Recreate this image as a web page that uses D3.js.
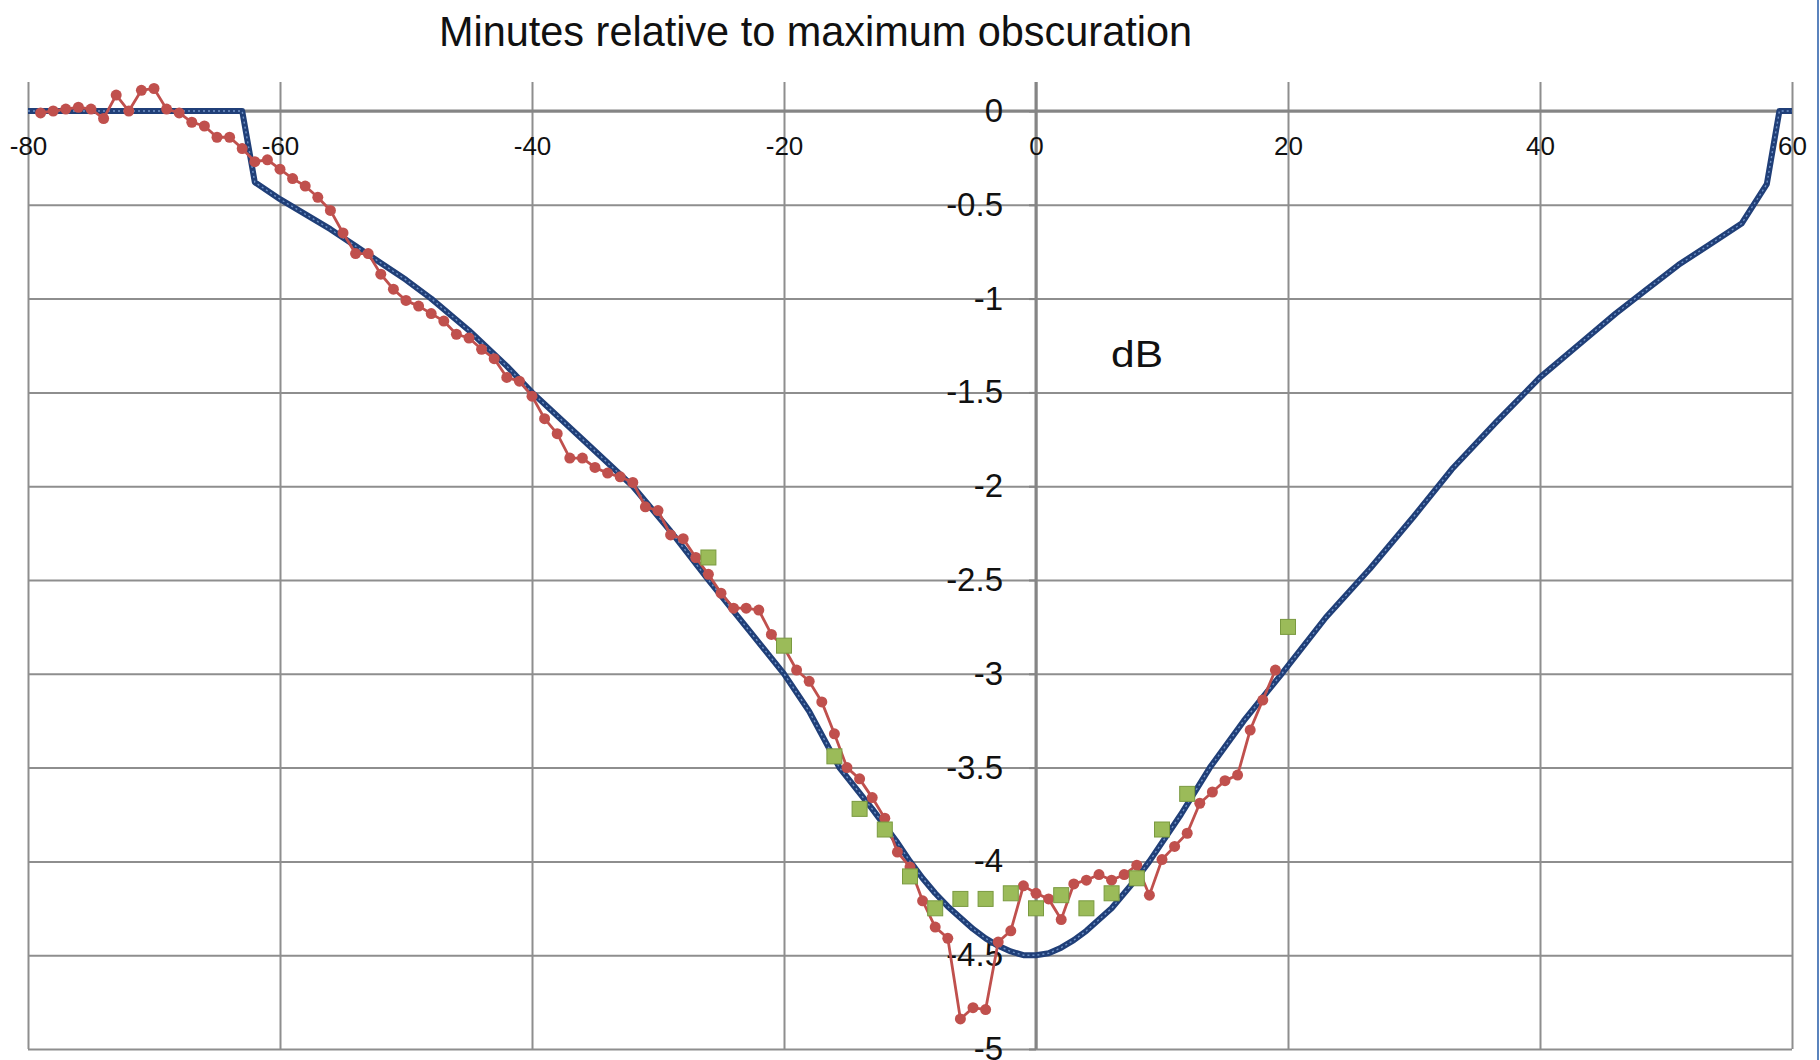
<!DOCTYPE html>
<html>
<head>
<meta charset="utf-8">
<script src="https://d3js.org/d3.v7.min.js"></script>
<style>
  html, body { margin: 0; padding: 0; background: #fff; }
  svg { display: block; font-family: "Liberation Sans", Arial, sans-serif; }
</style>
</head>
<body>
<div id="chart"></div>
<script>
// minutes relative to maximum obscuration
const xTicks = [-80, -60, -40, -20, 0, 20, 40, 60];
const yTicks = [0, -0.5, -1, -1.5, -2, -2.5, -3, -3.5, -4, -4.5, -5];

// model curve (blue)
const modelMin = [-80, -63, -62, -60, -58, -56, -54, -52, -50, -48, -45, -42, -40, -36, -32, -29, -26, -23, -20, -18, -15.6, -13, -11, -10, -9, -8, -7, -6, -5, -4, -3, -2, -1, 0,
  1, 2, 3, 4, 5, 6, 7, 8, 9, 10, 11.5, 13.8, 16.5, 19.5, 23, 26.5, 30, 33, 36.5, 40, 43, 46, 48.5, 51, 53.5, 56, 58, 59, 60];
const modelDb = [0, 0, -0.38, -0.47, -0.55, -0.63, -0.72, -0.81, -0.9, -1.0, -1.17, -1.36, -1.5, -1.75, -2.0, -2.24, -2.5, -2.75, -3.0, -3.2, -3.5, -3.72, -3.9, -4.0, -4.09, -4.17, -4.24, -4.3, -4.36, -4.41, -4.45, -4.48, -4.5, -4.5,
  -4.49, -4.46, -4.42, -4.37, -4.31, -4.25, -4.17, -4.09, -4.0, -3.9, -3.75, -3.5, -3.25, -3.0, -2.7, -2.44, -2.16, -1.91, -1.66, -1.42, -1.25, -1.08, -0.95, -0.82, -0.71, -0.6, -0.39, 0, 0];

// measured (red)
const measMin = [-79, -78, -77, -76, -75, -74, -73, -72, -71, -70, -69, -68, -67, -66, -65, -64, -63, -62, -61, -60,
  -59, -58, -57, -56, -55, -54, -53, -52, -51, -50, -49, -48, -47, -46, -45, -44, -43, -42, -41, -40,
  -39, -38, -37, -36, -35, -34, -33, -32, -31, -30, -29, -28, -27, -26, -25, -24, -23, -22, -21, -20,
  -19, -18, -17, -16, -15, -14, -13, -12, -11, -10, -9, -8, -7, -6, -5, -4, -3, -2, -1, 0,
  1, 2, 3, 4, 5, 6, 7, 8, 9, 10, 11, 12, 13, 14, 15, 16, 17, 18, 19];
const measDb = [-0.01, 0.0, 0.01, 0.02, 0.01, -0.04, 0.085, 0.0, 0.11, 0.12, 0.01, -0.01, -0.06, -0.08, -0.14, -0.14, -0.2, -0.27, -0.26, -0.31,
  -0.36, -0.4, -0.46, -0.53, -0.65, -0.76, -0.76, -0.87, -0.95, -1.01, -1.04, -1.08, -1.12, -1.19, -1.21, -1.27, -1.32, -1.42, -1.44, -1.52,
  -1.64, -1.72, -1.85, -1.85, -1.9, -1.93, -1.95, -1.98, -2.11, -2.13, -2.26, -2.28, -2.38, -2.47, -2.57, -2.65, -2.65, -2.66, -2.79, -2.86,
  -2.98, -3.04, -3.15, -3.32, -3.5, -3.56, -3.66, -3.77, -3.95, -4.03, -4.21, -4.35, -4.41, -4.84, -4.78, -4.79, -4.43, -4.37, -4.13, -4.17,
  -4.2, -4.31, -4.12, -4.1, -4.07, -4.1, -4.07, -4.02, -4.18, -3.99, -3.92, -3.85, -3.69, -3.63, -3.57, -3.54, -3.3, -3.14, -2.98];

// second measurement (green squares)
const sqMin = [-26, -20, -16, -14, -12, -10, -8, -6, -4, -2, 0, 2, 4, 6, 8, 10, 12, 20];
const sqDb = [-2.38, -2.85, -3.44, -3.72, -3.83, -4.08, -4.25, -4.2, -4.2, -4.17, -4.25, -4.18, -4.25, -4.17, -4.09, -3.83, -3.64, -2.75];

const W = 1820, H = 1060;
const gridTop = 82;

const x = d3.scaleLinear().domain([-80, 60]).range([28, 1792]);
const y = d3.scaleLinear().domain([0, -5]).range([111, 1049]);

const svg = d3.select("#chart").append("svg")
  .attr("width", W)
  .attr("height", H);

svg.append("rect").attr("width", W).attr("height", H).attr("fill", "#fff");

// vertical grid
svg.append("g")
  .attr("class", "grid-x")
  .attr("transform", "translate(0," + y(-5) + ")")
  .call(d3.axisBottom(x).tickValues(xTicks).tickSize(-(y(-5) - gridTop)).tickFormat(""))
  .call(g => g.select(".domain").remove())
  .call(g => g.selectAll("line").attr("stroke", "#8e8e8e").attr("stroke-width", 2));

// horizontal grid
svg.append("g")
  .attr("class", "grid-y")
  .attr("transform", "translate(" + x(60) + ",0)")
  .call(d3.axisLeft(y).tickValues(yTicks).tickSize(x(60) - x(-80)).tickFormat(""))
  .call(g => g.select(".domain").remove())
  .call(g => g.selectAll("line").attr("stroke", "#8e8e8e").attr("stroke-width", 2));

// zero lines
svg.append("line")
  .attr("x1", x(-80)).attr("x2", x(60))
  .attr("y1", y(0)).attr("y2", y(0))
  .attr("stroke", "#858585").attr("stroke-width", 3);
svg.append("line")
  .attr("x1", x(0)).attr("x2", x(0))
  .attr("y1", gridTop).attr("y2", y(-5))
  .attr("stroke", "#858585").attr("stroke-width", 3);

// x labels under the zero line
svg.append("g")
  .attr("transform", "translate(0," + y(0) + ")")
  .call(d3.axisBottom(x).tickValues(xTicks).tickSize(0).tickPadding(26).tickFormat(d => String(d)))
  .call(g => g.select(".domain").remove())
  .call(g => g.selectAll("text")
    .attr("font-family", "Liberation Sans, Arial, sans-serif")
    .attr("font-size", 26)
    .attr("fill", "#111"));

// y labels and small ticks left of x=0
svg.append("g")
  .attr("transform", "translate(" + x(0) + ",0)")
  .call(d3.axisLeft(y).tickValues(yTicks).tickSize(7).tickPadding(26).tickFormat(d => String(d)))
  .call(g => g.select(".domain").remove())
  .call(g => g.selectAll("line").attr("stroke", "#858585").attr("stroke-width", 2))
  .call(g => g.selectAll("text")
    .attr("font-family", "Liberation Sans, Arial, sans-serif")
    .attr("font-size", 33)
    .attr("fill", "#111"));

// title and unit
svg.append("text")
  .attr("x", 439).attr("y", 46)
  .attr("font-size", 43)
  .attr("textLength", 753)
  .attr("lengthAdjust", "spacingAndGlyphs")
  .attr("fill", "#111")
  .text("Minutes relative to maximum obscuration");

svg.append("text")
  .attr("x", 1111).attr("y", 367)
  .attr("font-size", 36)
  .attr("textLength", 52)
  .attr("lengthAdjust", "spacingAndGlyphs")
  .attr("fill", "#111")
  .text("dB");

// model line
const modelData = modelMin.map((m, i) => [m, modelDb[i]]);
const line = d3.line().x(d => x(d[0])).y(d => y(d[1]));

svg.append("path")
  .datum(modelData)
  .attr("d", line)
  .attr("fill", "none")
  .attr("stroke", "#203f78")
  .attr("stroke-width", 6)
  .attr("stroke-linejoin", "round");
svg.append("path")
  .datum(modelData)
  .attr("d", line)
  .attr("fill", "none")
  .attr("stroke", "#6f92c6")
  .attr("stroke-width", 1.4)
  .attr("stroke-dasharray", "2 3");

// measured red line + dots
const measData = measMin.map((m, i) => [m, measDb[i]]);
svg.append("path")
  .datum(measData)
  .attr("d", line)
  .attr("fill", "none")
  .attr("stroke", "#c0504d")
  .attr("stroke-width", 2.8);
svg.selectAll(".dot")
  .data(measData)
  .enter()
  .append("circle")
  .attr("class", "dot")
  .attr("cx", d => x(d[0]))
  .attr("cy", d => y(d[1]))
  .attr("r", 5.5)
  .attr("fill", "#c0504d");

// green squares
const sqData = sqMin.map((m, i) => [m, sqDb[i]]);
const s = 15;
svg.selectAll(".sq")
  .data(sqData)
  .enter()
  .append("rect")
  .attr("class", "sq")
  .attr("x", d => x(d[0]) - s / 2)
  .attr("y", d => y(d[1]) - s / 2)
  .attr("width", s)
  .attr("height", s)
  .attr("fill", "#9bbb59")
  .attr("stroke", "#7a9a40")
  .attr("stroke-width", 1);

// frame edge on the right
svg.append("line")
  .attr("x1", 1818).attr("x2", 1818)
  .attr("y1", 0).attr("y2", H)
  .attr("stroke", "#5b83bd").attr("stroke-width", 2);
</script>
</body>
</html>
